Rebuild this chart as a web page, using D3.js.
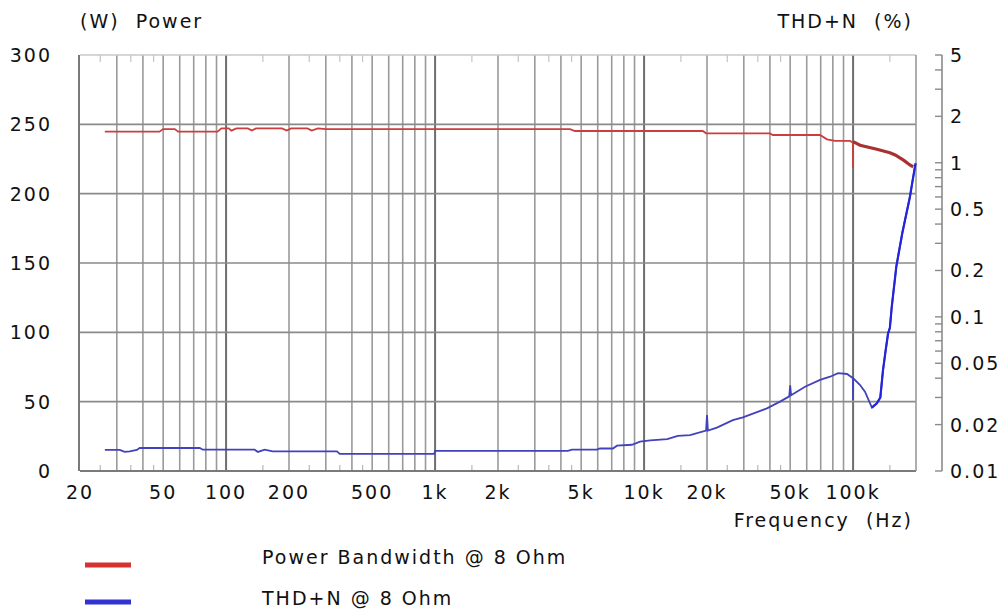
<!DOCTYPE html>
<html><head><meta charset="utf-8">
<script src="https://cdn.jsdelivr.net/npm/d3@7"></script>
<style>
body{margin:0;background:#fff}
text{font-family:"DejaVu Sans",sans-serif;font-size:19px;letter-spacing:2px;fill:#111;white-space:pre}
</style>
</head><body><svg id="c" width="1005" height="611"></svg>
<script>
// ---- data ----
const powerLowFreq = [26.3, 48, 50, 56.8, 59, 91, 95, 103, 106, 112, 127, 133, 139, 185, 195, 205, 245, 257, 275, 300, 4420, 4670, 19100, 19800, 40000, 41300, 69500, 75000, 82000, 96800, 99900, 100000];
const powerLowW    = [244.7, 244.7, 246.6, 246.6, 244.7, 244.7, 247.1, 247.1, 245.5, 247.1, 247.1, 245.5, 247.1, 247.1, 245.5, 247.1, 247.1, 245.5, 247.1, 246.6, 246.6, 245.2, 245.2, 243.5, 243.5, 242.3, 242.3, 239.2, 238.0, 238.0, 236.7, 218.5];
const powerHighFreq = [100000, 108000, 130000, 150000, 159000, 175000, 187000, 194000];
const powerHighW    = [237.5, 234.9, 232.0, 229.5, 227.9, 224.0, 220.7, 219.4];

const thdFreq = [26.3, 31, 32.7, 34.6, 37.4, 38.6, 74.8, 77.4, 137, 142, 153, 167, 339, 350, 990, 1000, 4320, 4520, 5950, 6150, 7100, 7410, 8750, 9560, 10700, 12900, 14500, 16600, 19800, 20000, 20200, 22300, 26600, 29700, 38700, 44700, 49500, 50000, 50500, 58900, 69500, 77600, 84800, 93600, 99900, 100000, 100100, 108000, 114000, 123000, 130000, 135000, 139000, 143000, 147000, 150000, 153000, 161000, 172000, 187000, 194000, 199000];
const thdPct  = [0.0137, 0.0137, 0.0133, 0.0134, 0.0137, 0.0141, 0.0141, 0.01375, 0.01375, 0.0133, 0.01375, 0.0134, 0.0134, 0.0129, 0.0129, 0.0135, 0.0135, 0.01375, 0.01375, 0.0140, 0.0140, 0.0146, 0.0148, 0.0155, 0.0158, 0.0161, 0.0169, 0.0171, 0.0183, 0.0231, 0.0183, 0.0191, 0.0214, 0.0223, 0.0255, 0.0282, 0.0305, 0.0360, 0.0310, 0.0352, 0.0390, 0.0409, 0.0431, 0.0426, 0.0400, 0.0289, 0.0400, 0.0361, 0.0327, 0.0258, 0.0275, 0.0300, 0.0450, 0.0600, 0.0780, 0.0850, 0.1150, 0.212, 0.350, 0.600, 0.810, 0.990];

const xTickVals   = [20, 50, 100, 200, 500, 1000, 2000, 5000, 10000, 20000, 50000, 100000];
const xTickLabels = ["20", "50", "100", "200", "500", "1k", "2k", "5k", "10k", "20k", "50k", "100k"];
const yLeftTicks  = [0, 50, 100, 150, 200, 250, 300];
const yRightTicks = [0.01, 0.02, 0.05, 0.1, 0.2, 0.5, 1, 2, 5];
const yRightLabels = ["0.01", "0.02", "0.05", "0.1", "0.2", "0.5", "1", "2", "5"];
const legendLabels = ["Power Bandwidth @ 8 Ohm", "THD+N @ 8 Ohm"];

// ---- scales ----
const svg = d3.select("#c");
const L = 80, R = 916, T = 55, B = 471;
const x = d3.scaleLog().domain([20, 200000]).range([L, R]);
const yL = d3.scaleLinear().domain([0, 300]).range([B, T]);
const yR = d3.scaleLog().domain([0.01, 5]).range([B, T]);

// ---- grid ----
const g = svg.append("g");
const minorFreqs = [], halfFreqs = [];
for (let d = 10; d <= 100000; d *= 10) {
  for (let m = 1; m <= 9; m++) { const f = m * d; if (f > 20 && f < 200000) minorFreqs.push({f, major: m === 1}); }
  [1.5, 2.5, 3.5, 4.5].forEach(m => { const f = m * d; if (f > 20 && f < 200000) halfFreqs.push(f); });
}
g.selectAll(".vg").data(minorFreqs).join("line")
  .attr("x1", d => x(d.f)).attr("x2", d => x(d.f)).attr("y1", T).attr("y2", B)
  .attr("stroke", d => d.major ? "#6e6e6e" : "#9a9a9a").attr("stroke-width", d => d.major ? 2 : 1.6);
g.selectAll(".hg").data(yLeftTicks.filter(v => v > 0 && v < 300)).join("line")
  .attr("x1", L).attr("x2", R).attr("y1", d => yL(d)).attr("y2", d => yL(d))
  .attr("stroke", "#8a8a8a").attr("stroke-width", 1.6);
g.selectAll(".hb").data(halfFreqs).join("line")
  .attr("x1", d => x(d)).attr("x2", d => x(d)).attr("y1", B).attr("y2", B - 6)
  .attr("stroke", "#b8b8b8").attr("stroke-width", 1.2);
g.selectAll(".ht").data(halfFreqs).join("line")
  .attr("x1", d => x(d)).attr("x2", d => x(d)).attr("y1", T).attr("y2", T + 7)
  .attr("stroke", "#c4c4c4").attr("stroke-width", 1.2);
g.append("line").attr("x1", L).attr("x2", R).attr("y1", T).attr("y2", T).attr("stroke", "#c8c8c8").attr("stroke-width", 1.5);
g.append("line").attr("x1", L).attr("x2", R).attr("y1", B).attr("y2", B).attr("stroke", "#7a7a7a").attr("stroke-width", 2);
g.append("line").attr("x1", L - 1).attr("x2", L - 1).attr("y1", T).attr("y2", B).attr("stroke", "#7a7a7a").attr("stroke-width", 2);
g.append("line").attr("x1", R).attr("x2", R).attr("y1", T).attr("y2", B).attr("stroke", "#9a9a9a").attr("stroke-width", 1.6);

// ---- right axis ----
const RA = 942;
const rMinor = [];
[0.01, 0.1, 1].forEach(d => { for (let m = 1; m <= 9; m++) { const v = +(m * d).toPrecision(3); if (v <= 5) rMinor.push(v); } });
svg.append("line").attr("x1", RA).attr("x2", RA).attr("y1", T).attr("y2", B).attr("stroke", "#8a8a8a").attr("stroke-width", 1.6);
svg.selectAll(".rt").data(rMinor).join("line")
  .attr("x1", RA - 7).attr("x2", RA).attr("y1", d => yR(d)).attr("y2", d => yR(d))
  .attr("stroke", "#8a8a8a").attr("stroke-width", 1.4);
svg.selectAll(".rl").data(yRightTicks).join("text")
  .attr("x", 950).attr("y", d => yR(d) + 7).text((d, i) => yRightLabels[i]);

// ---- left labels ----
svg.selectAll(".ll").data(yLeftTicks).join("text")
  .attr("x", 52).attr("y", d => yL(d) + 7).attr("text-anchor", "end").text(d => d);

// ---- x labels ----
svg.selectAll(".xl").data(xTickVals).join("text")
  .attr("x", d => x(d)).attr("y", 499).attr("text-anchor", "middle").text((d, i) => xTickLabels[i]);

svg.append("text").attr("x", 80).attr("y", 28).text("(W)  Power");
svg.append("text").attr("x", 913).attr("y", 28).attr("text-anchor", "end").text("THD+N  (%)");
svg.append("text").attr("x", 913).attr("y", 527).attr("text-anchor", "end").text("Frequency  (Hz)");

// ---- lines ----
const powerLow = powerLowFreq.map((f, i) => [f, powerLowW[i]]);
const powerHigh = powerHighFreq.map((f, i) => [f, powerHighW[i]]);
const thd = thdFreq.map((f, i) => [f, thdPct[i]]);
const lp = d3.line().x(d => x(d[0])).y(d => yL(d[1]));
const lt = d3.line().x(d => x(d[0])).y(d => yR(d[1]));

svg.append("path").attr("d", lp(powerLow)).attr("fill", "none").attr("stroke", "#cc3d3d").attr("stroke-width", 1.8);
svg.append("path").attr("d", lp(powerHigh)).attr("fill", "none").attr("stroke", "#a83232").attr("stroke-width", 3.2);
svg.append("path").attr("d", lt(thd)).attr("fill", "none").attr("stroke", "#4242bc").attr("stroke-width", 1.8);
svg.append("path").attr("d", lt(thd.filter(d => d[0] >= 123000))).attr("fill", "none").attr("stroke", "#2424dc").attr("stroke-width", 2.2);

// ---- legend ----
const legColors = ["#d63232", "#3232d2"];
const legY = [565, 602];
const legTextY = [564, 605];
svg.selectAll(".lg").data(legendLabels).join("line")
  .attr("x1", 85).attr("x2", 131).attr("y1", (d, i) => legY[i]).attr("y2", (d, i) => legY[i])
  .attr("stroke", (d, i) => legColors[i]).attr("stroke-width", 5);
svg.selectAll(".lt").data(legendLabels).join("text")
  .attr("x", 262).attr("y", (d, i) => legTextY[i]).text(d => d);
</script>
</body></html>
